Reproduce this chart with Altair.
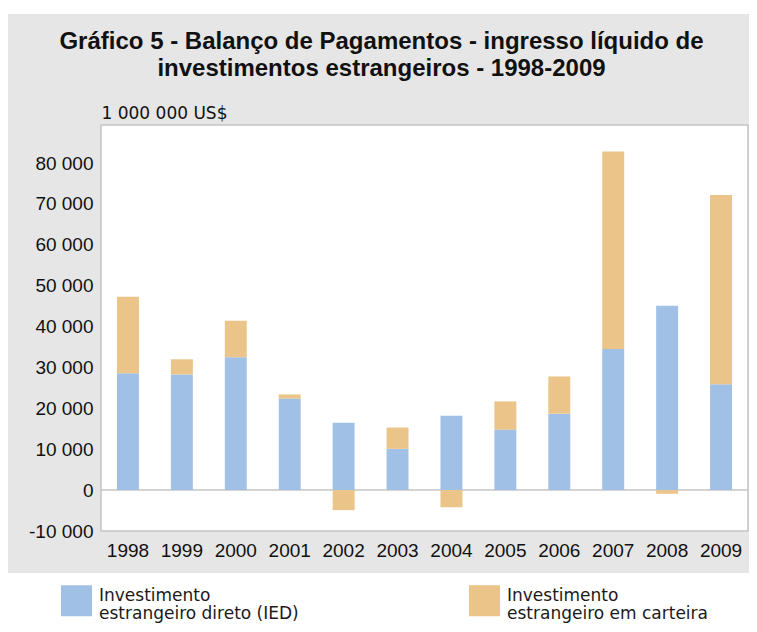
import altair as alt
import pandas as pd

# ---- data (million US$) ----
years = [str(y) for y in range(1998, 2010)]
ied = [28600, 28300, 32500, 22400, 16500, 10100, 18200, 14800, 18700, 34500, 45100, 25900]
carteira = [18700, 3700, 8900, 1000, -4900, 5200, -4200, 6900, 9100, 48300, -900, 46300]
series = ["Investimento|estrangeiro direto (IED)", "Investimento|estrangeiro em carteira"]
colors = ["#a0c0e5", "#eac489"]
y_ticks = [-10000, 0, 10000, 20000, 30000, 40000, 50000, 60000, 70000, 80000]
title_lines = ["Gráfico 5 - Balanço de Pagamentos - ingresso líquido de",
               "investimentos estrangeiros - 1998-2009"]
unit = "1 000 000 US$"

df = pd.DataFrame({
    "ano": years * 2,
    "serie": [series[0]] * 12 + [series[1]] * 12,
    "valor": ied + carteira,
    "ordem": [0] * 12 + [1] * 12,
})

W, H = 647, 406
one = pd.DataFrame({"valor": [0]})

bg = alt.Chart(one).mark_rect(color="#e6e6e6").encode(
    x=alt.value(-94), x2=alt.value(W + 10), y=alt.value(-111), y2=alt.value(448)
)
frame = alt.Chart(one).mark_rect(fill="white", stroke="#c4c4c4", strokeWidth=1.5).encode(
    x=alt.value(0), x2=alt.value(W), y=alt.value(0), y2=alt.value(H)
)

yscale = alt.Scale(domain=[-10000, 89300], nice=False, zero=False)

zero_rule = alt.Chart(one).mark_rule(color="#c4c4c4", strokeWidth=1.5).encode(
    y=alt.Y("valor:Q", scale=yscale)
)

bars = alt.Chart(df).mark_bar().encode(
    x=alt.X("ano:N", sort=years,
            scale=alt.Scale(paddingInner=0.593, paddingOuter=0.2965),
            axis=alt.Axis(title=None, labelAngle=0, ticks=False, domain=False,
                          labelFont="Liberation Sans", labelFontSize=19,
                          labelPadding=10, labelColor="#111111", zindex=1)),
    y=alt.Y("valor:Q", stack="zero", scale=yscale,
            axis=alt.Axis(values=y_ticks, grid=False, ticks=False, domain=False,
                          labelExpr="(datum.value < 0 ? '-' : '') + replace(format(abs(datum.value), ','), ',', ' ')",
                          labelFont="Liberation Sans", labelFontSize=19,
                          labelColor="#111111", labelPadding=8,
                          title=unit, titleAngle=0, titleAlign="left",
                          titleBaseline="alphabetic", titleX=0, titleY=-7,
                          titleFont="DejaVu Sans", titleFontSize=17,
                          titleFontWeight="normal", titleColor="#111111",
                          zindex=1)),
    color=alt.Color("serie:N",
                    scale=alt.Scale(domain=series, range=colors),
                    legend=alt.Legend(title=None, orient="none", legendX=-40, legendY=460,
                                      direction="horizontal", columns=2, columnPadding=170,
                                      symbolType="square", symbolSize=961,
                                      symbolStrokeWidth=0, symbolOpacity=1,
                                      labelExpr="split(datum.label, '|')",
                                      labelFont="DejaVu Sans", labelFontSize=17,
                                      labelBaseline="alphabetic",
                                      labelOffset=7, labelColor="#1a1a1a",
                                      labelLimit=400, padding=0, rowPadding=0)),
    order=alt.Order("ordem:Q", sort="ascending"),
)

chart = alt.layer(bg, frame, zero_rule, bars).properties(
    width=W, height=H,
    padding={"left": 93, "top": 117, "right": 1, "bottom": 93},
    autosize=alt.AutoSizeParams(type="none"),
    title=alt.TitleParams(text=title_lines, font="Liberation Sans", fontSize=24,
                          fontWeight="bold", color="#111111", anchor="middle",
                          frame="group", dx=-43, offset=-67, lineHeight=27),
).configure_view(stroke="transparent").configure(
    background="white", style={"guide-label": {"lineHeight": 18}}
)

chart.save("out.html", embed_options={"renderer": "svg", "actions": False})
